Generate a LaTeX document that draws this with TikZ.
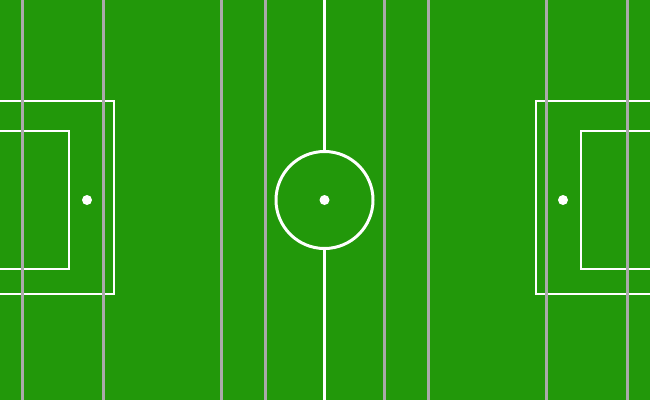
\documentclass[tikz,border=0pt]{standalone}
\usepackage{tikz}
\definecolor{pitch}{RGB}{34,152,10}
\definecolor{stripe}{RGB}{170,170,170}
\tikzset{
  markline/.style={draw=white, line width=2pt},
  midline/.style={draw=white, line width=3pt},
  stripeline/.style={draw=stripe, line width=3pt},
  spotdot/.style={fill=white},
}
\begin{document}
\begin{tikzpicture}[x=1pt, y=-1pt]
  % Spielfeld
  \fill[pitch] (0,0) rectangle (650,400);
  \useasboundingbox (0,0) rectangle (650,400);
  \clip (0,0) rectangle (650,400);
  % Mittellinie und Anstosskreis
  \coordinate (kickoff) at (324.5,200);
  \draw[midline] (324.5,0) -- (324.5,151.5);
  \draw[midline] (324.5,248.5) -- (324.5,400);
  \draw[midline] (kickoff) circle[radius=48.5];
  \fill[spotdot] (kickoff) circle[radius=5];
  % Strafraeume
  \draw[markline] (-10,101) rectangle (114,293.5);
  \draw[markline] (-10,131) rectangle (69,269);
  \draw[markline] (660,101) rectangle (536,293.5);
  \draw[markline] (660,131) rectangle (581,269);
  \fill[spotdot] (87,200) circle[radius=5];
  \fill[spotdot] (563,200) circle[radius=5];
  % graue Streifen
  \foreach \sx in {22.3,103.3,221.7,265.5,384.5,428.7,546.3,627.3}
    \draw[stripeline] (\sx,0) -- (\sx,400);
\end{tikzpicture}
\end{document}
